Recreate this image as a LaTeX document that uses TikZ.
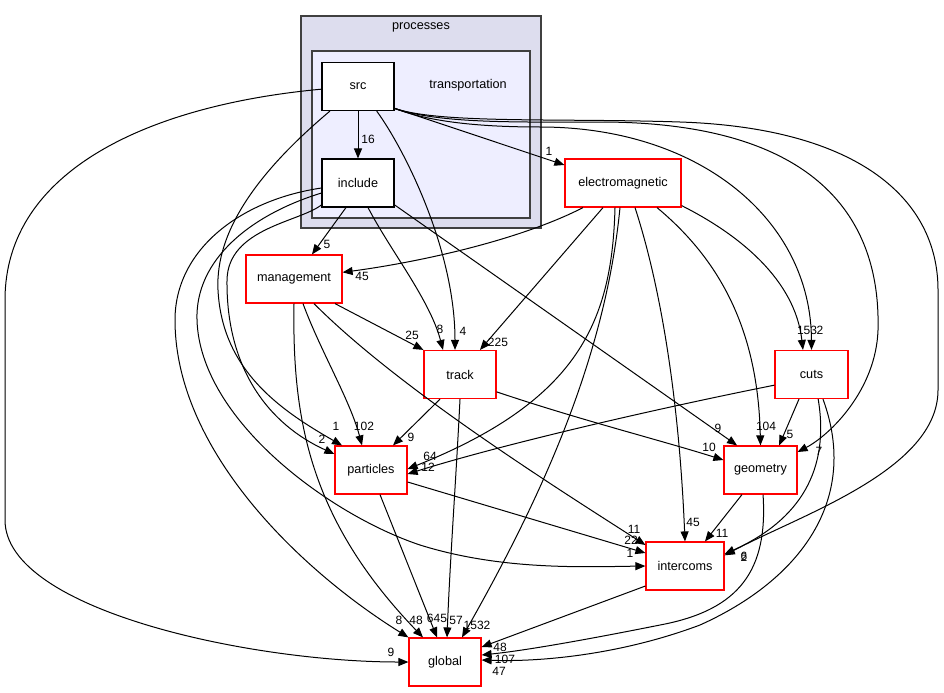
\documentclass[tikz,border=0pt]{standalone}
\usepackage{fontspec}
\setmainfont{Liberation Sans}
\usetikzlibrary{arrows.meta}

\definecolor{outerfill}{RGB}{221,221,238}
\definecolor{innerfill}{RGB}{238,238,255}
\definecolor{clusterline}{RGB}{64,64,64}

\begin{document}
\begin{tikzpicture}[x=0.75pt,y=-0.75pt,
    dirnode/.style={draw=red,fill=white,line width=0.9pt,minimum height=36pt,
        font=\fontsize{9.5}{11}\selectfont},
    subdirnode/.style={dirnode,draw=black,line width=0.8pt},
    dep/.style={-{Triangle[length=7.5pt,width=6pt]},line width=0.75pt},
    deplabel/.style={font=\fontsize{9}{10}\selectfont,inner sep=0pt}]

\useasboundingbox (0,0) rectangle (944,692);

% clusters
\draw[fill=outerfill,draw=clusterline,line width=1.1pt] (301,16) rectangle (541,228);
\draw[fill=innerfill,draw=clusterline,line width=1.1pt] (312,51) rectangle (530,218);
\node[font=\fontsize{9.5}{11}\selectfont] (processes) at (421,27) {processes};
\node[font=\fontsize{9.5}{11}\selectfont] (transportation) at (468,85) {transportation};

% directories
\node[subdirnode,minimum width=54pt] (src) at (358,86.5) {src};
\node[subdirnode,minimum width=54pt] (include) at (358,183) {include};
\node[dirnode,minimum width=87pt] (electromagnetic) at (623,183) {electromagnetic};
\node[dirnode,minimum width=72pt] (management) at (294,279) {management};
\node[dirnode,minimum width=54pt] (track) at (460,374.5) {track};
\node[dirnode,minimum width=54.75pt] (cuts) at (811.5,374.5) {cuts};
\node[dirnode,minimum width=54pt] (particles) at (371,470) {particles};
\node[dirnode,minimum width=54.75pt] (geometry) at (760.5,470) {geometry};
\node[dirnode,minimum width=58.5pt] (intercoms) at (685,566) {intercoms};
\node[dirnode,minimum width=54pt] (global) at (445,662) {global};

% src
\draw[dep] (src.south) -- (include.north) node[deplabel] at (368,139) {16};
\draw[dep] ([yshift=2pt]src.south east) -- ([yshift=13.5pt]electromagnetic.west) node[deplabel] at (549,151) {1};
\draw[dep] ([xshift=14pt]src.south) .. controls (405,150) and (455,250) .. ([xshift=-3.75pt]track.north) node[deplabel] at (463,331) {4};
\draw[dep] ([xshift=-21pt]src.south) .. controls (260,170) and (215,230) .. (218,290)
    .. controls (222,370) and (280,410) .. ([xshift=-21.75pt]particles.north) node[deplabel] at (336,426) {1};
\draw[dep] ([yshift=-2pt]src.west) .. controls (150,105) and (5,170) .. (5,300) -- (5,520)
    .. controls (5,610) and (250,662) .. (global.west) node[deplabel] at (391,652) {9};
\draw[dep] ([yshift=2pt]src.south east) .. controls (430,122) and (480,127) .. (540,127)
    .. controls (700,127) and (811,220) .. (cuts.north) node[deplabel] at (820,330) {2};
\draw[dep] ([yshift=2pt]src.south east) .. controls (440,124) and (520,122) .. (600,122)
    .. controls (850,122) and (880,250) .. (878,330)
    .. controls (876,390) and (830,435) .. ([yshift=13.5pt]geometry.east) node[deplabel] at (819,451) {7};
\draw[dep] ([yshift=2pt]src.south east) .. controls (440,124) and (560,118) .. (680,122)
    .. controls (860,128) and (938,200) .. (938,290) -- (938,390)
    .. controls (938,470) and (800,515) .. ([yshift=8pt]intercoms.east) node[deplabel] at (744,557) {2};

% include
\draw[dep] ([xshift=-9pt]include.south) -- ([xshift=13.5pt]management.north) node[deplabel] at (327,244) {5};
\draw[dep] ([xshift=7.5pt]include.south) .. controls (390,250) and (430,300) .. ([xshift=-12.75pt]track.north) node[deplabel] at (440,329) {8};
\draw[dep] ([yshift=2pt]include.south east) -- ([xshift=-17.6pt]geometry.north) node[deplabel] at (718,428) {9};
\draw[dep] ([yshift=2pt]include.south west) .. controls (300,222) and (228,228) .. (227,280)
    .. controls (226,370) and (270,425) .. ([yshift=12pt]particles.west) node[deplabel] at (322,439) {2};
\draw[dep] ([yshift=-7.5pt]include.west) .. controls (250,215) and (195,260) .. (197,320)
    .. controls (200,420) and (330,515) .. (420,545)
    .. controls (500,570) and (580,567) .. (intercoms.west) node[deplabel] at (630,553) {1};
\draw[dep] ([yshift=-3.75pt]include.west) .. controls (240,200) and (175,250) .. (175,320)
    .. controls (175,450) and (300,570) .. (global.north west) node[deplabel] at (399,620) {8};

% management
\draw[dep] ([xshift=30.75pt]management.south) -- (track.north west) node[deplabel] at (412,335) {25};
\draw[dep] ([xshift=6.75pt]management.south) .. controls (320,350) and (350,400) .. ([xshift=-6.75pt]particles.north) node[deplabel] at (364,426) {102};
\draw[dep] (management.south) .. controls (292,420) and (310,520) .. ([xshift=-16.5pt]global.north) node[deplabel] at (416,620) {48};
\draw[dep] ([xshift=15pt]management.south) .. controls (400,390) and (560,490) .. ([yshift=15.75pt]intercoms.west) node[deplabel] at (634,529) {11};

% electromagnetic
\draw[dep] ([xshift=-30pt]electromagnetic.south) .. controls (520,240) and (420,262) .. ([yshift=5pt]management.east) node[deplabel] at (362,276) {45};
\draw[dep] ([xshift=-15pt]electromagnetic.south) -- ([xshift=15pt]track.north) node[deplabel] at (498,342) {225};
\draw[dep] ([xshift=-6pt]electromagnetic.south) .. controls (612,320) and (580,400) .. ([yshift=0.75pt]particles.east) node[deplabel] at (430,456) {64};
\draw[dep] ([xshift=-2.25pt]electromagnetic.south) .. controls (605,360) and (540,500) .. ([xshift=12.75pt]global.north) node[deplabel] at (477,625) {1532};
\draw[dep] ([xshift=9pt]electromagnetic.south) .. controls (665,300) and (680,420) .. (intercoms.north) node[deplabel] at (693,522) {45};
\draw[dep] ([xshift=25.5pt]electromagnetic.south) .. controls (720,260) and (758,330) .. (geometry.north) node[deplabel] at (766,426) {104};
\draw[dep] ([yshift=1.5pt]electromagnetic.south east) .. controls (740,235) and (795,280) .. ([xshift=-6.4pt]cuts.north) node[deplabel] at (807,330) {153};

% track
\draw[dep] ([xshift=-15pt]track.south) -- ([xshift=16.5pt]particles.north) node[deplabel] at (411,437) {9};
\draw[dep] (track.south) .. controls (456,480) and (450,560) .. ([xshift=1.5pt]global.north) node[deplabel] at (456,620) {57};
\draw[dep] ([yshift=-13pt]track.east) .. controls (580,420) and (660,440) .. ([yshift=7.5pt]geometry.west) node[deplabel] at (709,447) {10};

% cuts
\draw[dep] ([yshift=-8pt]cuts.west) .. controls (650,410) and (500,445) .. ([yshift=-3pt]particles.east) node[deplabel] at (428,467) {12};
\draw[dep] ([xshift=-9.4pt]cuts.south) -- ([xshift=14pt]geometry.north) node[deplabel] at (790,434) {5};
\draw[dep] ([xshift=5pt]cuts.south) .. controls (830,470) and (800,520) .. ([yshift=9pt]intercoms.east) node[deplabel] at (744,556) {6};
\draw[dep] ([xshift=8.6pt]cuts.south) .. controls (860,500) and (800,580) .. (700,625)
    .. controls (620,655) and (540,662) .. ([yshift=1.5pt]global.east) node[deplabel] at (499,671) {47};

% particles, geometry, intercoms
\draw[dep] ([xshift=6.75pt]particles.south) -- ([xshift=-6pt]global.north) node[deplabel] at (437,618) {645};
\draw[dep] ([yshift=-9pt]particles.east) -- ([yshift=9.75pt]intercoms.west) node[deplabel] at (631,540) {22};
\draw[dep] ([xshift=-13.9pt]geometry.south) -- ([xshift=15pt]intercoms.north) node[deplabel] at (722,533) {11};
\draw[dep] ([xshift=1.9pt]geometry.south) .. controls (768,570) and (740,610) .. (660,625)
    .. controls (600,637) and (530,650) .. ([yshift=5.25pt]global.east) node[deplabel] at (505,659) {107};
\draw[dep] ([yshift=-15pt]intercoms.west) -- ([yshift=11.25pt]global.east) node[deplabel] at (500,647) {48};

\end{tikzpicture}
\end{document}
